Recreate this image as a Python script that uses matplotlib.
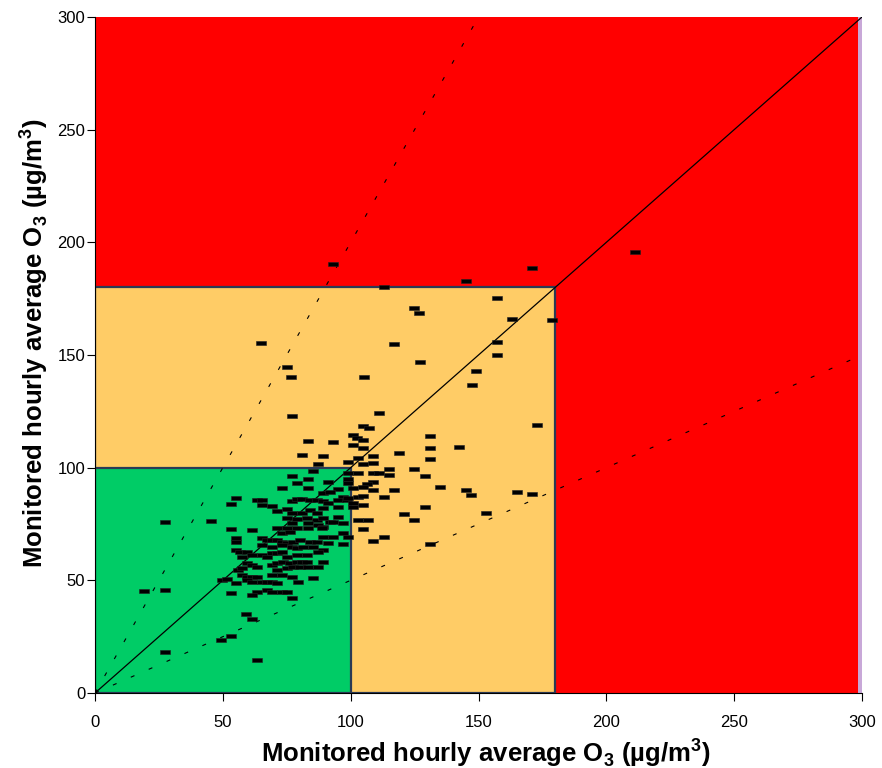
import matplotlib
matplotlib.use("Agg")
import matplotlib.pyplot as plt
from matplotlib.patches import Rectangle
from matplotlib.path import Path
import numpy as np

# ---- data (monitored vs modelled hourly O3, µg/m3) ----
obs_x = [93.2, 211.4, 171.0, 145.2, 113.1, 157.3, 124.9, 126.8, 178.9, 163.2,
         65.0, 117.0, 157.3, 157.3, 75.1, 149.1, 127.2, 147.6, 76.7, 105.3,
         77.1, 111.2, 173.0, 142.5, 131.1, 131.1, 83.4, 93.2, 101.0, 102.5,
         104.9, 107.2, 104.9, 101.0, 104.9, 108.8, 119.0, 104.9, 108.8, 115.1,
         124.9, 131.1, 108.8, 111.2, 115.1, 129.2, 108.8, 106.5, 108.8, 117.0,
         135.0, 145.2, 147.2, 165.2, 171.0, 113.1, 129.2, 120.9, 153.0, 124.9,
         106.9, 104.9, 113.1, 108.8, 131.1, 81.0, 89.2, 87.3, 99.0, 102.9,
         85.3, 77.1, 83.4, 91.2, 95.1, 99.0, 79.1, 83.4, 73.2, 89.2,
         92.0, 97.1, 55.2, 53.2, 63.4, 65.4, 65.4, 69.3, 71.2, 75.1,
         77.1, 79.1, 81.0, 84.2, 86.9, 89.2, 91.2, 95.1, 95.1, 98.6,
         101.0, 104.9, 77.1, 81.0, 84.2, 86.9, 89.2, 75.1, 79.1, 83.0,
         86.9, 89.2, 92.0, 95.1, 77.1, 83.4, 87.3, 89.2, 93.2, 97.1,
         75.1, 79.1, 83.4, 88.8, 27.4, 45.4, 53.2, 61.4, 71.2, 73.2,
         76.3, 55.2, 55.2, 65.4, 67.3, 69.3, 71.2, 73.2, 75.1, 77.5,
         80.2, 84.2, 86.9, 89.2, 93.2, 97.1, 99.0, 65.4, 69.3, 73.2,
         77.1, 79.1, 81.4, 85.3, 89.2, 91.2, 97.1, 55.2, 56.8, 59.5,
         57.5, 61.4, 65.4, 67.3, 69.3, 71.2, 73.2, 75.1, 79.1, 83.0,
         87.3, 59.5, 61.4, 63.4, 69.3, 71.2, 73.6, 76.3, 79.1, 81.0,
         83.0, 89.2, 56.0, 57.5, 71.2, 75.1, 77.5, 80.2, 83.4, 87.3,
         57.5, 59.5, 61.4, 63.4, 69.3, 73.2, 77.1, 85.3, 49.7, 51.7,
         55.2, 59.5, 61.4, 65.4, 67.3, 69.3, 71.2, 79.5, 19.2, 27.4,
         53.2, 63.4, 61.4, 67.3, 69.3, 73.2, 75.1, 77.1, 59.1, 61.4,
         53.2, 49.3, 27.4, 63.4, 102.9, 104.9, 102.9, 104.9, 99.0, 101.0,
         99.0, 99.0, 101.0, 102.9]
mod_y = [190.4, 195.7, 188.6, 182.8, 180.2, 175.3, 170.9, 168.6, 165.5, 166.0,
         155.3, 154.9, 155.8, 150.0, 144.7, 142.9, 146.9, 136.7, 140.2, 140.2,
         122.9, 124.3, 118.9, 109.2, 114.1, 108.7, 111.8, 111.4, 114.5, 113.2,
         118.5, 117.6, 112.3, 110.1, 108.7, 105.2, 106.5, 101.6, 102.1, 99.4,
         99.4, 103.9, 97.6, 97.6, 96.8, 96.3, 93.6, 92.8, 90.1, 90.1,
         91.4, 90.1, 87.9, 89.2, 88.3, 87.0, 82.5, 79.4, 79.9, 76.8,
         76.8, 72.8, 69.2, 67.5, 66.1, 105.6, 105.2, 101.6, 102.5, 104.3,
         98.5, 96.3, 95.0, 93.6, 90.5, 97.6, 93.2, 91.0, 91.0, 88.8,
         89.2, 87.0, 86.5, 83.9, 85.7, 85.7, 83.4, 83.0, 80.8, 81.7,
         85.2, 86.1, 86.1, 85.7, 85.7, 85.2, 84.3, 85.7, 82.5, 85.7,
         84.3, 83.4, 79.9, 79.9, 81.2, 79.9, 82.1, 77.7, 77.2, 77.7,
         76.8, 77.7, 75.9, 78.1, 75.4, 75.4, 74.6, 73.7, 75.9, 75.4,
         73.2, 73.2, 73.2, 73.2, 75.9, 76.3, 72.8, 72.3, 73.2, 71.0,
         71.5, 68.8, 67.0, 68.8, 67.9, 67.9, 67.9, 67.0, 66.6, 67.0,
         67.9, 67.0, 67.0, 69.2, 69.2, 71.0, 69.2, 65.7, 64.8, 65.7,
         64.8, 64.4, 64.8, 64.8, 63.5, 66.6, 66.1, 63.5, 62.6, 62.6,
         60.4, 61.2, 61.2, 60.4, 62.1, 62.1, 62.6, 60.4, 61.2, 61.2,
         62.6, 57.7, 56.8, 55.9, 56.8, 57.7, 58.1, 57.7, 58.1, 58.1,
         58.1, 58.1, 54.6, 55.5, 54.6, 55.5, 55.9, 55.9, 55.9, 55.9,
         52.4, 51.5, 51.5, 51.5, 52.4, 52.4, 51.5, 51.0, 50.1, 50.6,
         48.8, 50.1, 49.3, 49.3, 49.3, 49.3, 48.8, 49.3, 45.3, 45.7,
         44.4, 44.8, 43.5, 45.7, 44.8, 44.8, 44.8, 42.2, 35.1, 32.8,
         25.3, 23.5, 18.2, 14.6, 97.6, 91.4, 87.0, 87.4, 93.2, 91.0,
         86.5, 95.0, 82.5, 76.8]

axis_ticks = [0, 50, 100, 150, 200, 250, 300]
line_ratios = [1.0, 2.0, 0.5]          # 1:1 solid, 2:1 and 1:2 dotted
band_limits = [180, 100]               # orange (<=180), green (<=100)
band_colors = ["#ffcc66", "#00cc66"]
xlabel = r"Monitored hourly average O$_\mathregular{3}$ (µg/m$^\mathregular{3}$)"
ylabel = r"Monitored hourly average O$_\mathregular{3}$ (µg/m$^\mathregular{3}$)"

plt.rcParams["font.family"] = ["Liberation Sans", "DejaVu Sans"]

fig = plt.figure(figsize=(8.82, 7.68), dpi=100)
ax = fig.add_axes([95 / 882, 1 - 693 / 768, 767 / 882, 676 / 768])
ax.set_xlim(0, 300)
ax.set_ylim(0, 300)
ax.set_facecolor("#ff0000")

# thin lavender strip at right edge
ax.axvspan(298.6, 300, color="#c8a8d8", zorder=1, lw=0)

edge = "#2b3a55"
for lim, col in zip(band_limits, band_colors):
    ax.add_patch(Rectangle((0, 0), lim, lim, facecolor=col, edgecolor=edge,
                           lw=1.6, zorder=2))

for r in line_ratios:
    xe = min(300, 300 / r)
    if r == 1.0:
        ax.plot([0, xe], [0, xe * r], color="black", lw=0.9, zorder=3)
    else:
        ax.plot([0, xe], [0, xe * r], color="black", lw=0.8,
                dashes=(3.6, 14), zorder=3)

rect_marker = Path([(-1, -0.42), (1, -0.42), (1, 0.42), (-1, 0.42), (-1, -0.42)],
                   [Path.MOVETO, Path.LINETO, Path.LINETO, Path.LINETO, Path.CLOSEPOLY])
ax.plot(obs_x, mod_y, linestyle="none", marker=rect_marker, markersize=7.5,
        markerfacecolor="black", markeredgecolor="#222222", markeredgewidth=0.4,
        zorder=4)

ax.set_xticks(axis_ticks)
ax.set_yticks(axis_ticks)
ax.tick_params(axis="x", direction="out", length=6, width=0.8, pad=10,
               labelsize=12)
ax.tick_params(axis="y", direction="out", length=6, width=0.8, pad=1,
               labelsize=12)
for s in ["top", "right"]:
    ax.spines[s].set_visible(False)
for s in ["left", "bottom"]:
    ax.spines[s].set_color("black")
    ax.spines[s].set_linewidth(0.8)

ax.set_xlabel(xlabel, fontsize=18.5, fontweight="bold")
ax.set_ylabel(ylabel, fontsize=18.5, fontweight="bold")
ax.xaxis.set_label_coords(0.51, -0.064)
ax.yaxis.set_label_coords(-0.059, 0.518)

fig.savefig("out.png", dpi=100, facecolor="white")
